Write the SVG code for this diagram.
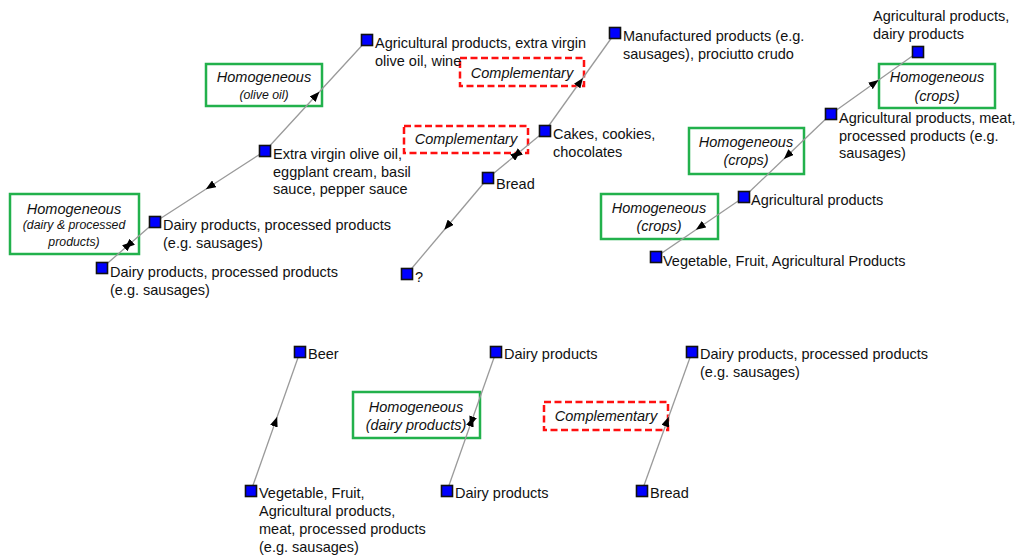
<svg xmlns="http://www.w3.org/2000/svg" width="1020" height="555" viewBox="0 0 1020 555">
  <style>
    .lbl { font-family: "Liberation Sans", Arial, sans-serif; font-size: 14.5px; fill: #111; }
    .tag { font-family: "Liberation Sans", Arial, sans-serif; font-size: 14.5px; font-style: italic; fill: #111; text-anchor: middle; }
    .tag-s { font-size: 12.3px; }
    .node { fill: #0000ff; stroke: #111; stroke-width: 1.6; }
    .homog { fill: none; stroke: #22b14c; stroke-width: 2.5; }
    .compl { fill: none; stroke: #ff1010; stroke-width: 2.5; stroke-dasharray: 7 3.5; }
    .edge { fill: none; stroke: #9a9a9a; stroke-width: 1.3; }
    .one { marker-mid: url(#ah); }
    .two { marker-mid: url(#ah2); }
  </style>
  <defs>
    <marker id="ah" viewBox="-5 -4 10 8" refX="0" refY="0" markerWidth="10" markerHeight="8" markerUnits="userSpaceOnUse" orient="auto">
      <path d="M-5,-4 L5,0 L-5,4 z" fill="#000"/>
    </marker>
    <!-- two opposing heads sharing one midpoint -->
    <marker id="ah2" viewBox="-5 -4 10 8" refX="0" refY="0" markerWidth="10" markerHeight="8" markerUnits="userSpaceOnUse" orient="auto">
      <path d="M-5,-4 L5,0 L-5,4 z" fill="#000"/>
      <path d="M5,-4 L-5,0 L5,4 z" fill="#000"/>
    </marker>
  </defs>

  <!-- relation boxes -->
  <g id="box-olive-oil">
    <rect class="homog" x="206" y="64" width="116" height="42"/>
    <text class="tag" x="264" y="82">Homogeneous</text>
    <text class="tag tag-s" x="264" y="99">(olive oil)</text>
  </g>
  <g id="box-dairy-processed">
    <rect class="homog" x="10" y="194" width="129" height="60"/>
    <text class="tag" x="74" y="214">Homogeneous</text>
    <text class="tag tag-s" x="74" y="229">(dairy &amp; processed</text>
    <text class="tag tag-s" x="74" y="246">products)</text>
  </g>
  <g id="box-compl-1">
    <rect class="compl" x="460" y="58" width="124" height="28"/>
    <text class="tag" x="522" y="78">Complementary</text>
  </g>
  <g id="box-compl-2">
    <rect class="compl" x="404" y="126" width="124" height="27"/>
    <text class="tag" x="466" y="144">Complementary</text>
  </g>
  <g id="box-crops-1">
    <rect class="homog" x="879" y="64" width="116" height="44"/>
    <text class="tag" x="937" y="82">Homogeneous</text>
    <text class="tag" x="937" y="101">(crops)</text>
  </g>
  <g id="box-crops-2">
    <rect class="homog" x="689" y="128" width="115" height="46"/>
    <text class="tag" x="746" y="147">Homogeneous</text>
    <text class="tag" x="746" y="165">(crops)</text>
  </g>
  <g id="box-crops-3">
    <rect class="homog" x="601" y="194" width="117" height="45"/>
    <text class="tag" x="659" y="213">Homogeneous</text>
    <text class="tag" x="659" y="231">(crops)</text>
  </g>
  <g id="box-dairy">
    <rect class="homog" x="353" y="392" width="127" height="46"/>
    <text class="tag" x="416" y="412">Homogeneous</text>
    <text class="tag" x="416" y="430">(dairy products)</text>
  </g>
  <g id="box-compl-3">
    <rect class="compl" x="544" y="402" width="124" height="28"/>
    <text class="tag" x="606" y="421">Complementary</text>
  </g>

  <!-- connectors: arrowheads sit at the midpoint of each line -->
  <g id="connectors">
    <path class="edge one" d="M265,151 L316,95.5 L367,40"/>
    <path class="edge one" d="M265,151 L210,186.5 L155,222"/>
    <path class="edge two" d="M155,222 L128.5,245 L102,268"/>

    <path class="edge one" d="M545,131 L580,82 L615,33"/>
    <path class="edge two" d="M545,131 L516.5,154.5 L488,178"/>
    <path class="edge one" d="M488,178 L447.5,226 L407,274"/>

    <path class="edge one" d="M831,114 L874.5,83 L918,52"/>
    <path class="edge one" d="M831,114 L787.5,155.5 L744,197"/>
    <path class="edge one" d="M744,197 L700,227 L656,257"/>

    <path class="edge one" d="M251,491 L275.5,421.5 L300,352"/>
    <path class="edge two" d="M496,352 L471.5,421.5 L447,491"/>
    <path class="edge one" d="M642,491 L667,421.5 L692,352"/>
  </g>

  <!-- nodes -->
  <g id="n-agri-olive-wine">
    <rect class="node" x="361.5" y="34.5" width="11" height="11"/>
    <text class="lbl" x="375" y="48">Agricultural products, extra virgin</text>
    <text class="lbl" x="375" y="65.5">olive oil, wine</text>
  </g>
  <g id="n-evoo-sauces">
    <rect class="node" x="259.5" y="145.5" width="11" height="11"/>
    <text class="lbl" x="273" y="159">Extra virgin olive oil,</text>
    <text class="lbl" x="273" y="176.5">eggplant cream, basil</text>
    <text class="lbl" x="273" y="194">sauce, pepper sauce</text>
  </g>
  <g id="n-dairy-processed-1">
    <rect class="node" x="149.5" y="216.5" width="11" height="11"/>
    <text class="lbl" x="163" y="230">Dairy products, processed products</text>
    <text class="lbl" x="163" y="247.5">(e.g. sausages)</text>
  </g>
  <g id="n-dairy-processed-2">
    <rect class="node" x="96.5" y="262.5" width="11" height="11"/>
    <text class="lbl" x="110" y="277">Dairy products, processed products</text>
    <text class="lbl" x="110" y="294.5">(e.g. sausages)</text>
  </g>

  <g id="n-manufactured">
    <rect class="node" x="609.5" y="27.5" width="11" height="11"/>
    <text class="lbl" x="623" y="41">Manufactured products (e.g.</text>
    <text class="lbl" x="623" y="58.5">sausages), prociutto crudo</text>
  </g>
  <g id="n-cakes">
    <rect class="node" x="539.5" y="125.5" width="11" height="11"/>
    <text class="lbl" x="553" y="139">Cakes, cookies,</text>
    <text class="lbl" x="553" y="156.5">chocolates</text>
  </g>
  <g id="n-bread-1">
    <rect class="node" x="482.5" y="172.5" width="11" height="11"/>
    <text class="lbl" x="496" y="189">Bread</text>
  </g>
  <g id="n-unknown">
    <rect class="node" x="401.5" y="268.5" width="11" height="11"/>
    <text class="lbl" x="415" y="282">?</text>
  </g>

  <g id="n-agri-dairy">
    <rect class="node" x="912.5" y="46.5" width="11" height="11"/>
    <text class="lbl" x="873" y="21">Agricultural products,</text>
    <text class="lbl" x="873" y="38.5">dairy products</text>
  </g>
  <g id="n-agri-meat">
    <rect class="node" x="825.5" y="108.5" width="11" height="11"/>
    <text class="lbl" x="839" y="123">Agricultural products, meat,</text>
    <text class="lbl" x="839" y="140.5">processed products (e.g.</text>
    <text class="lbl" x="839" y="158">sausages)</text>
  </g>
  <g id="n-agri">
    <rect class="node" x="738.5" y="191.5" width="11" height="11"/>
    <text class="lbl" x="751" y="205">Agricultural products</text>
  </g>
  <g id="n-veg-fruit-1">
    <rect class="node" x="650.5" y="251.5" width="11" height="11"/>
    <text class="lbl" x="663" y="266">Vegetable, Fruit, Agricultural Products</text>
  </g>

  <g id="n-beer">
    <rect class="node" x="294.5" y="346.5" width="11" height="11"/>
    <text class="lbl" x="308" y="359">Beer</text>
  </g>
  <g id="n-veg-fruit-2">
    <rect class="node" x="245.5" y="485.5" width="11" height="11"/>
    <text class="lbl" x="259" y="498">Vegetable, Fruit,</text>
    <text class="lbl" x="259" y="516">Agricultural products,</text>
    <text class="lbl" x="259" y="534">meat, processed products</text>
    <text class="lbl" x="259" y="552">(e.g. sausages)</text>
  </g>

  <g id="n-dairy-1">
    <rect class="node" x="490.5" y="346.5" width="11" height="11"/>
    <text class="lbl" x="504" y="359">Dairy products</text>
  </g>
  <g id="n-dairy-2">
    <rect class="node" x="441.5" y="485.5" width="11" height="11"/>
    <text class="lbl" x="455" y="498">Dairy products</text>
  </g>

  <g id="n-dairy-processed-3">
    <rect class="node" x="686.5" y="346.5" width="11" height="11"/>
    <text class="lbl" x="700" y="359">Dairy products, processed products</text>
    <text class="lbl" x="700" y="377">(e.g. sausages)</text>
  </g>
  <g id="n-bread-2">
    <rect class="node" x="636.5" y="485.5" width="11" height="11"/>
    <text class="lbl" x="650" y="498">Bread</text>
  </g>
</svg>
